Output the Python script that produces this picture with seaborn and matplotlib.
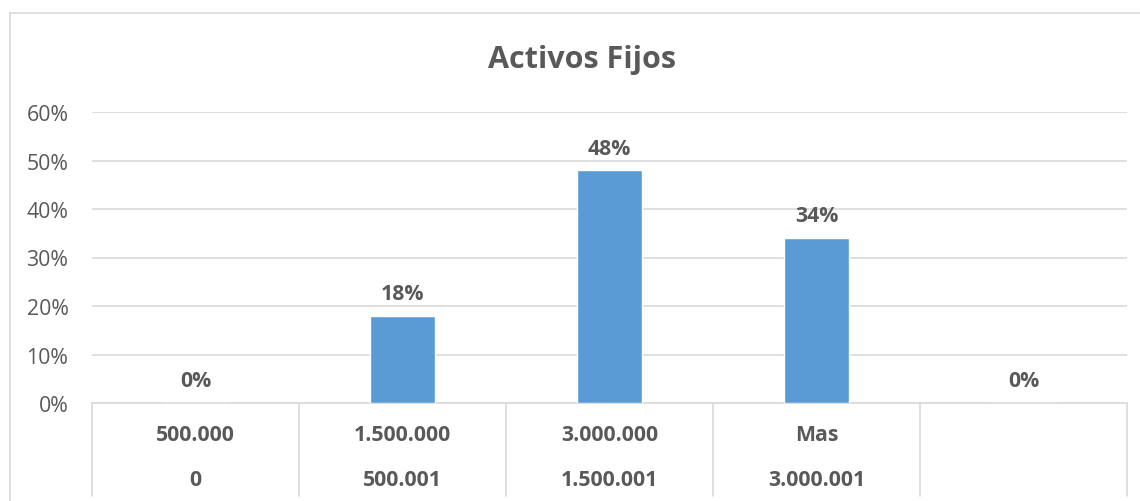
import matplotlib
matplotlib.use("Agg")
import matplotlib.pyplot as plt
import matplotlib.transforms as mtransforms
from matplotlib.lines import Line2D
from matplotlib.ticker import FuncFormatter
import seaborn as sns
import pandas as pd

# Data
categories = ["c1", "c2", "c3", "c4", "c5"]
upper_labels = ["500.000", "1.500.000", "3.000.000", "Mas", ""]
lower_labels = ["0", "500.001", "1.500.001", "3.000.001", ""]
percentages = [0, 18, 48, 34, 0]

BAR_COLOR = "#5B9BD5"
GRID_COLOR = "#D9D9D9"
TEXT_COLOR = "#595959"
FS = 15.3

sns.set_theme(style="white")
plt.rcParams["font.family"] = ["Open Sans", "DejaVu Sans"]

W, H = 1140, 502
fig = plt.figure(figsize=(W / 100, H / 100), dpi=100)
# plot area in pixels: x 92..1127, y 113 (60%)..404 (0%)
ax = fig.add_axes([92 / W, (H - 404) / H, (1127 - 92) / W, (404 - 113) / H])

df = pd.DataFrame({"cat": categories, "pct": percentages})
sns.barplot(data=df, x="cat", y="pct", color=BAR_COLOR, width=0.31,
            saturation=1, ax=ax, zorder=3)

ax.set_ylim(0, 60)
ax.set_xlim(-0.5, len(categories) - 0.5)
ax.set_yticks(range(0, 61, 10))
ax.yaxis.set_major_formatter(FuncFormatter(lambda v, _: f"{v:.0f}%"))
ax.grid(axis="y", color=GRID_COLOR, linewidth=1.2, zorder=0)
ax.tick_params(axis="y", length=0, pad=17, labelsize=FS, labelcolor=TEXT_COLOR)
ax.tick_params(axis="x", length=0, labelbottom=False)
ax.set_xlabel("")
ax.set_ylabel("")
for side in ["left", "right", "top"]:
    ax.spines[side].set_visible(False)
ax.spines["bottom"].set_color(GRID_COLOR)
ax.spines["bottom"].set_linewidth(1.2)

# value labels above bars
for i, v in enumerate(percentages):
    ax.annotate(f"{v}%", (i, v), xytext=(0, 12), textcoords="offset points",
                ha="center", va="baseline", fontsize=FS, fontweight="bold",
                color=TEXT_COLOR)

# two-level category axis
axes_h = 404 - 113
trans = mtransforms.blended_transform_factory(ax.transData, ax.transAxes)
for i in range(len(categories)):
    ax.text(i, -(436 - 404) / axes_h, upper_labels[i], transform=trans,
            ha="center", va="center", fontsize=FS, fontweight="bold",
            color=TEXT_COLOR)
    ax.text(i, -(481 - 404) / axes_h, lower_labels[i], transform=trans,
            ha="center", va="center", fontsize=FS, fontweight="bold",
            color=TEXT_COLOR)
for k in range(len(categories) + 1):
    ax.add_line(Line2D([k - 0.5, k - 0.5], [0, -(497 - 404) / axes_h],
                       transform=trans, color=GRID_COLOR, linewidth=1.2,
                       clip_on=False))

fig.text(582 / W, 1 - 60 / H, "Activos Fijos", ha="center", va="center",
         fontsize=22, fontweight="bold", color=TEXT_COLOR)

# outer chart border (only top and left visible in the crop)
fig.add_artist(Line2D([10 / W, 1], [1 - 14 / H, 1 - 14 / H], transform=fig.transFigure,
                      color=GRID_COLOR, linewidth=1.2))
fig.add_artist(Line2D([10 / W, 10 / W], [0, 1 - 14 / H], transform=fig.transFigure,
                      color=GRID_COLOR, linewidth=1.2))

fig.savefig("out.png", dpi=100, facecolor="white")
